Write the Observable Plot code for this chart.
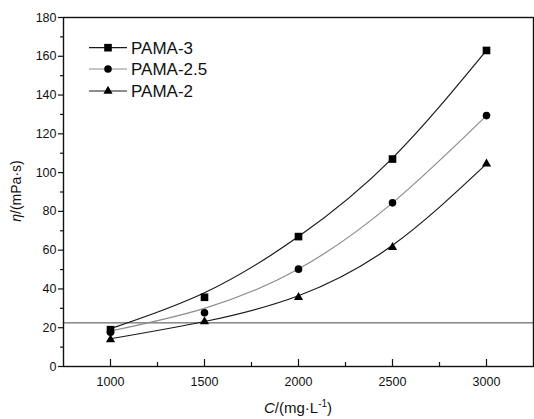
<!DOCTYPE html>
<html><head><meta charset="utf-8">
<script src="https://cdn.jsdelivr.net/npm/d3@7"></script>
<script src="https://cdn.jsdelivr.net/npm/@observablehq/plot@0.6"></script>
<style>
body{margin:0;background:#fff}
#chart{position:relative;width:534px;height:419px}
</style>
</head><body><div id="chart"></div>
<script>
const concentrations = [1000, 1500, 2000, 2500, 3000];
const seriesNames = ["PAMA-3", "PAMA-2.5", "PAMA-2"];
const pama3 = [19, 35.7, 67, 107, 163];
const pama25 = [17.7, 27.7, 50.2, 84.4, 129.4];
const pama2 = [13.9, 23.2, 35.7, 61.5, 104.5];
const fit3 = [19.5, 38, 67, 107.5, 163];
const fit25 = [18.3, 30, 50.3, 84.4, 129.4];
const fit2 = [14.3, 23.2, 36.5, 62.5, 104.5];
const referenceLevel = 22.5;
const xTicks = [1000, 1500, 2000, 2500, 3000];
const xMinorTicks = [1250, 1750, 2250, 2750];
const yTicks = [0, 20, 40, 60, 80, 100, 120, 140, 160, 180];
const yMinorTicks = [10, 30, 50, 70, 90, 110, 130, 150, 170];

const symbols = ["square", "circle", "triangle"];
const lineColors = ["#1a1a1a", "#8c8c8c", "#1a1a1a"];
const radii = [4.3, 3.8, 3.4];
const valueSets = [pama3, pama25, pama2];
const fitSets = [fit3, fit25, fit2];

const points = [], fits = [];
seriesNames.forEach((s, i) => {
  concentrations.forEach((c, j) => {
    points.push({series: s, c, v: valueSets[i][j], idx: i});
    fits.push({series: s, c, v: fitSets[i][j], idx: i});
  });
});

const font = "Liberation Sans, Arial, Helvetica, sans-serif";
const marks = [
  Plot.ruleY([referenceLevel], {stroke: "#333", strokeWidth: 0.9}),
];
seriesNames.forEach((s, i) => {
  marks.push(Plot.line(fits.filter(d => d.idx === i), {x: "c", y: "v", curve: "natural", stroke: lineColors[i], strokeWidth: 1.2}));
});
seriesNames.forEach((s, i) => {
  marks.push(Plot.dot(points.filter(d => d.idx === i), {x: "c", y: "v", symbol: symbols[i], r: radii[i], fill: "#000", stroke: "none"}));
});
marks.push(
  Plot.axisX({ticks: xTicks, tickSize: -7, fill: "none", label: null, stroke: "#111", strokeWidth: 1.2}),
  Plot.axisX({ticks: xMinorTicks, tickSize: -4, fill: "none", label: null, stroke: "#111", strokeWidth: 1.2}),
  Plot.axisX({ticks: xTicks, tickSize: 0, tickPadding: 11, label: null, fontSize: 12.5, fill: "#111", tickFormat: d => String(d)}),
  Plot.axisY({ticks: yTicks, tickSize: 5, tickPadding: 2, label: null, fontSize: 12.5, fill: "#111", stroke: "#111", strokeWidth: 1.2}),
  Plot.axisY({ticks: yMinorTicks, tickSize: 3, fill: "none", label: null, stroke: "#111", strokeWidth: 1.2}),
  Plot.frame({stroke: "#111", strokeWidth: 1.4})
);

const chart = Plot.plot({
  width: 534, height: 419,
  marginLeft: 63, marginRight: 1, marginTop: 17, marginBottom: 53,
  x: {domain: [750, 3250]},
  y: {domain: [0, 180]},
  style: {fontFamily: font, fontSize: "12px", color: "#111", background: "#fff", overflow: "visible"},
  marks
});
document.getElementById("chart").appendChild(chart);

// Legend and axis titles
const svg = d3.select(chart);
const legendRows = [47.7, 69, 91];
const sym = d3.scaleOrdinal(symbols, [d3.symbolSquare, d3.symbolCircle, d3.symbolTriangle]);
const lg = svg.append("g").attr("text-anchor", "start");
seriesNames.forEach((s, i) => {
  const y = legendRows[i];
  lg.append("line").attr("x1", 89).attr("x2", 127).attr("y1", y).attr("y2", y)
    .attr("stroke", lineColors[i]).attr("stroke-width", 1.2);
  lg.append("path").attr("transform", `translate(108,${y})`)
    .attr("d", d3.symbol(sym(symbols[i]), Math.PI * radii[i] * radii[i])())
    .attr("fill", "#000");
  lg.append("text").attr("x", 131).attr("y", y).attr("dy", "0.36em").attr("text-anchor", "start")
    .attr("font-family", font).attr("font-size", 17).attr("fill", "#111").text(s);
});

const yt = svg.append("text").attr("transform", "translate(21,191) rotate(-90)")
  .attr("text-anchor", "middle").attr("font-family", font).attr("font-size", 14).attr("fill", "#111");
yt.append("tspan").attr("font-style", "italic").text("η");
yt.append("tspan").text("/(mPa·s)");

const xt = svg.append("text").attr("x", 298).attr("y", 413)
  .attr("text-anchor", "middle").attr("font-family", font).attr("font-size", 15).attr("fill", "#111");
xt.append("tspan").attr("font-style", "italic").text("C");
xt.append("tspan").text("/(mg·L");
xt.append("tspan").attr("font-size", 10).attr("dy", -6).text("-1");
xt.append("tspan").attr("dy", 6).text(")");
</script>
</body></html>
